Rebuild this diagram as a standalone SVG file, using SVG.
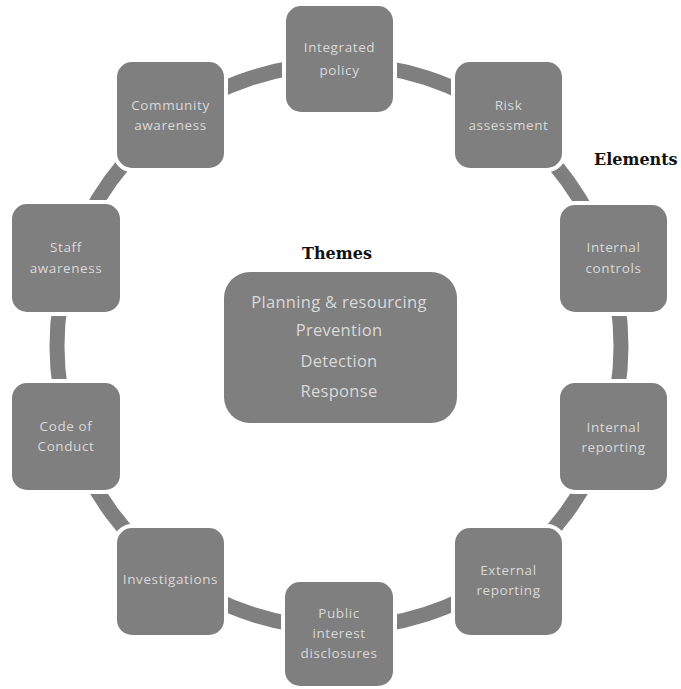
<svg xmlns="http://www.w3.org/2000/svg" width="681" height="689" viewBox="0 0 681 689">
<style>
.bg{fill:#ffffff}
.conn{fill:none;stroke:#7f7f7f;stroke-width:15}
.node{fill:#7f7f7f;stroke:#ffffff;stroke-width:8;paint-order:stroke}
.lbl{font-family:"Open Sans","Liberation Sans",sans-serif;font-size:13.5px;letter-spacing:0.6px;fill:#d9d9d9;text-anchor:middle}
.theme{font-family:"Open Sans","Liberation Sans",sans-serif;font-size:16.5px;letter-spacing:0.3px;fill:#d9d9d9;text-anchor:middle}
.head{font-family:"DejaVu Serif","Liberation Serif",serif;font-weight:bold;font-size:16px;fill:#111111}
</style>
<rect class="bg" x="0" y="0" width="681" height="689"/>
<g id="connectors">
<path class="conn" d="M339,64 A282,282 0 0 1 505.5,118.4"/>
<path class="conn" d="M505.5,118.4 A282,282 0 0 1 607.5,259.8"/>
<path class="conn" d="M607.5,259.8 A282,282 0 0 1 606.9,434.1"/>
<path class="conn" d="M606.9,434.1 A282,282 0 0 1 503.5,575"/>
<path class="conn" d="M503.5,575 A282,282 0 0 1 339,628"/>
<path class="conn" d="M339,628 A282,282 0 0 1 174.5,575"/>
<path class="conn" d="M174.5,575 A282,282 0 0 1 71.1,434.1"/>
<path class="conn" d="M71.1,434.1 A282,282 0 0 1 70.8,258.9"/>
<path class="conn" d="M70.8,258.9 A282,282 0 0 1 172.5,118.4"/>
<path class="conn" d="M172.5,118.4 A282,282 0 0 1 339,64"/>
</g>
<g id="integrated-policy">
<rect class="node" x="286" y="6" width="107" height="106" rx="15"/>
<text class="lbl" x="339.5" y="52">Integrated</text>
<text class="lbl" x="339.5" y="75">policy</text>
</g>
<g id="risk-assessment">
<rect class="node" x="455" y="62" width="107" height="106" rx="15"/>
<text class="lbl" x="508.5" y="110">Risk</text>
<text class="lbl" x="508.5" y="130">assessment</text>
</g>
<g id="internal-controls">
<rect class="node" x="560" y="205" width="107" height="107" rx="15"/>
<text class="lbl" x="613.5" y="252">Internal</text>
<text class="lbl" x="613.5" y="273">controls</text>
</g>
<g id="internal-reporting">
<rect class="node" x="560" y="383" width="107" height="107" rx="15"/>
<text class="lbl" x="613.5" y="432">Internal</text>
<text class="lbl" x="613.5" y="452">reporting</text>
</g>
<g id="external-reporting">
<rect class="node" x="455" y="528" width="107" height="107" rx="15"/>
<text class="lbl" x="508.5" y="575">External</text>
<text class="lbl" x="508.5" y="595">reporting</text>
</g>
<g id="public-interest-disclosures">
<rect class="node" x="285" y="582" width="108" height="104" rx="15"/>
<text class="lbl" x="339" y="618">Public</text>
<text class="lbl" x="339" y="638">interest</text>
<text class="lbl" x="339" y="658">disclosures</text>
</g>
<g id="investigations">
<rect class="node" x="117" y="528" width="107" height="107" rx="15"/>
<text class="lbl" x="170.5" y="584">Investigations</text>
</g>
<g id="code-of-conduct">
<rect class="node" x="12" y="383" width="108" height="107" rx="15"/>
<text class="lbl" x="66" y="431">Code of</text>
<text class="lbl" x="66" y="451">Conduct</text>
</g>
<g id="staff-awareness">
<rect class="node" x="12" y="204" width="108" height="108" rx="15"/>
<text class="lbl" x="66" y="252">Staff</text>
<text class="lbl" x="66" y="273">awareness</text>
</g>
<g id="community-awareness">
<rect class="node" x="117" y="62" width="107" height="106" rx="15"/>
<text class="lbl" x="170.5" y="110">Community</text>
<text class="lbl" x="170.5" y="130">awareness</text>
</g>
<g id="themes">
<text class="head" x="337" y="259" text-anchor="middle">Themes</text>
<rect class="node" x="224" y="272" width="233" height="151" rx="26" style="stroke-width:0"/>
<text class="theme" x="339" y="308">Planning &amp; resourcing</text>
<text class="theme" x="339" y="336">Prevention</text>
<text class="theme" x="339" y="367">Detection</text>
<text class="theme" x="339" y="397">Response</text>
</g>
<g id="elements-label">
<text class="head" x="594" y="165">Elements</text>
</g>
</svg>
